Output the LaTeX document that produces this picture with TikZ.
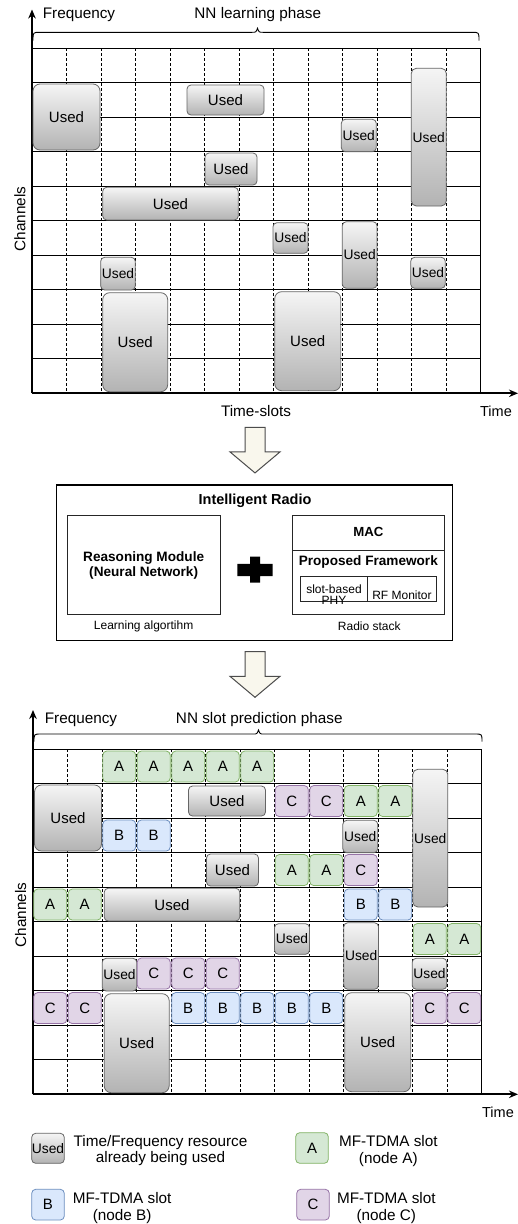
\documentclass[tikz,border=0pt]{standalone}
\usepackage{fontspec}
\setmainfont{Liberation Sans}
\usetikzlibrary{arrows.meta}
\definecolor{gA}{HTML}{D5E8D4}\definecolor{gAd}{HTML}{82B366}
\definecolor{bB}{HTML}{DAE8FC}\definecolor{bBd}{HTML}{6C8EBF}
\definecolor{pC}{HTML}{E1D5E7}\definecolor{pCd}{HTML}{9673A6}
\definecolor{uTop}{HTML}{F5F5F5}\definecolor{uBot}{HTML}{B3B3B3}\definecolor{uDr}{HTML}{666666}
\definecolor{arrF}{HTML}{F9F7ED}
\newcommand{\fsz}[1]{\fontsize{#1}{#1}\selectfont}
\newcommand{\ublk}[7]{%
  \node[usedbox, rounded corners=#7pt, font=\fsz{#6}, minimum width={#4-#2}, minimum height={#5-#3}] (#1) at ({(#2+#4)/2},{(#3+#5)/2}) {Used};}
\newcommand{\chartgrid}[2]{%
  \foreach \c in {1,...,12} \draw[dashline] ({#1+34.5*\c},#2) -- ({#1+34.5*\c},{#2+345});
  \foreach \r in {0,...,9} \draw[gridline] (#1,{#2+34.5*\r}) -- ({#1+448.5},{#2+34.5*\r});
  \draw[gridline] ({#1+448.5},#2) -- ({#1+448.5},{#2+345});}
\newcommand{\blkarrow}[1]{%
  \draw[blockarrow] (245,#1) -- (265,#1) -- (265,{#1+24.6}) -- (280,{#1+24.6}) -- (255,{#1+45.6}) -- (230,{#1+24.6}) -- (245,{#1+24.6}) -- cycle;}
\begin{document}
\begin{tikzpicture}[x=1pt,y=-1pt,
  gridline/.style={black, line width=0.9pt},
  dashline/.style={black, line width=0.7pt, dash pattern=on 3pt off 2pt},
  axis/.style={black, line width=1.8pt, -{Stealth[length=9pt,width=7.5pt]}},
  usedbox/.style={draw=uDr, line width=0.8pt, top color=uTop, bottom color=uBot, inner sep=0pt, text=black},
  slotbase/.style={line width=0.8pt, rounded corners=4pt, minimum width=33pt, minimum height=31pt, inner sep=0pt, font=\fsz{15}},
  slotA/.style={slotbase, fill=gA, draw=gAd},
  slotB/.style={slotbase, fill=bB, draw=bBd},
  slotC/.style={slotbase, fill=pC, draw=pCd},
  lbl/.style={font=\fsz{15.3}, inner sep=0pt},
  small/.style={font=\fsz{12}, inner sep=0pt, align=center},
  bold/.style={font=\bfseries\fsz{13.6}, inner sep=0pt, align=center},
  brc/.style={black, line width=0.9pt},
  boxline/.style={draw=black!85, line width=1pt, inner sep=0pt},
  blockarrow/.style={draw=black!70, fill=arrF, line width=1pt, line join=miter}
]
\useasboundingbox (0,0) rectangle (518,1224);
\fill[white] (0,0) rectangle (518,1224);

% ===== Top chart =====
\chartgrid{32}{48.3}
\coordinate (o1) at (32,393.3);
\coordinate (yt1) at (32,9.5);
\coordinate (xt1) at (518,393.3);
\draw[axis] (o1) -- (yt1);
\draw[axis] (o1) -- (xt1);
\draw[brc] (33,40.5) .. controls (33,32.3) .. (40,32.3) -- (252,32.3) .. controls (256,32.3) .. (257.5,28.3) .. controls (259,32.3) .. (263,32.3) -- (472,32.3) .. controls (479,32.3) .. (479,40.5);
\node[lbl] (freq1) at (79,15) {Frequency};
\node[lbl] (ph1) at (257.8,15) {NN learning phase};
\node[lbl, rotate=90] (ch1) at (20,219) {Channels};
\node[lbl] (ts1) at (256,411) {Time-slots};
\node[font=\fsz{14.5}, inner sep=0pt] (tm1) at (496,411.5) {Time};

\ublk{t1}{33}{84}{100}{150}{15}{7}
\ublk{t2}{187}{85}{264}{115}{15}{4}
\ublk{t3}{205}{153}{257}{185}{15}{4}
\ublk{t4}{102.7}{187.3}{238.3}{220}{15}{4}
\ublk{t5}{100.7}{257.3}{135.3}{290}{13.8}{4}
\ublk{t6}{102.7}{292.7}{167.7}{391.7}{15}{7}
\ublk{t7}{341.3}{119.3}{376.3}{151.7}{13.8}{4}
\ublk{t8}{411.3}{68.3}{446.3}{206}{13.8}{5}
\ublk{t9}{273}{222.7}{308}{253.3}{13.8}{4}
\ublk{t10}{342.3}{221.7}{377}{288.3}{13.8}{4}
\ublk{t11}{410.7}{257.3}{445.3}{288.3}{13.8}{4}
\ublk{t12}{274.7}{291.7}{340.7}{390.7}{15}{7}

% ===== Arrow 1 =====
\blkarrow{427.3}

% ===== Intelligent Radio box =====
\node[boxline, line width=1.5pt, draw=black, minimum width=396pt, minimum height=155.5pt] (ir) at (254.7,562.75) {};
\node[font=\bfseries\fsz{14.5}, inner sep=0pt] (irt) at (255,501) {Intelligent Radio};
\node[boxline, minimum width=152.7pt, minimum height=98.6pt] (rm) at (143.65,565) {};
\node[bold] (rmt) at (143.65,565.5) {Reasoning Module\\[1.2pt](Neural Network)};
\node[small] (la) at (143.65,626) {Learning algortihm};
\node[boxline, minimum width=151.3pt, minimum height=98.3pt] (rs) at (368.35,564.85) {};
\coordinate (macl) at (292.7,550);
\coordinate (macr) at (444,550);
\draw[draw=black!85, line width=1pt] (macl) -- (macr);
\node[font=\bfseries\fsz{13.2}, inner sep=0pt] (mac) at (368.3,532.3) {MAC};
\node[bold] (pf) at (368.3,561.7) {Proposed Framework};
\node[boxline, minimum width=136.7pt, minimum height=25.7pt] (phyb) at (368.35,588.85) {};
\coordinate (dvt) at (367.7,576);
\coordinate (dvb) at (367.7,601.7);
\draw[draw=black!85, line width=1pt] (dvt) -- (dvb);
\node[small, font=\fsz{12}, align=center] (phy) at (334,594.5) {slot-based\\[-0.8pt]PHY};
\node[small] (rf) at (402,595) {RF Monitor};
\node[small] (rst) at (369.3,626) {Radio stack};
\fill[black] (250,556.7) -- (260,556.7) -- (260,563.8) -- (272.7,563.8) -- (272.7,576.2) -- (260,576.2) -- (260,582.5) -- (250,582.5) -- (250,576.2) -- (237.3,576.2) -- (237.3,563.8) -- (250,563.8) -- cycle;

% ===== Arrow 2 =====
\blkarrow{651.7}

% ===== Bottom chart =====
\chartgrid{33}{749.3}
\coordinate (o2) at (33,1094.3);
\coordinate (yt2) at (33,710);
\coordinate (xt2) at (518,1094.3);
\draw[axis] (o2) -- (yt2);
\draw[axis] (o2) -- (xt2);
\draw[brc] (34,741.7) .. controls (34,734) .. (41,734) -- (253,734) .. controls (257,734) .. (258.5,730) .. controls (260,734) .. (264,734) -- (475,734) .. controls (482,734) .. (482,741.7);
\node[lbl] (freq2) at (81,720) {Frequency};
\node[lbl] (ph2) at (259.3,720) {NN slot prediction phase};
\node[lbl, rotate=90] (ch2) at (20.7,915) {Channels};
\node[font=\fsz{14.5}, inner sep=0pt] (tm2) at (498,1112.7) {Time};

\ublk{b1}{34.5}{785}{101.5}{851}{15}{7}
\ublk{b2}{188.5}{786}{265.5}{816}{15}{4}
\ublk{b3}{206.5}{854}{258.5}{886}{15}{4}
\ublk{b4}{104.2}{888.3}{239.8}{921}{15}{4}
\ublk{b5}{102.2}{958.3}{136.8}{991}{13.8}{4}
\ublk{b6}{104.2}{993.7}{169.2}{1092.7}{15}{7}
\ublk{b7}{342.8}{820.3}{377.8}{852.7}{13.8}{4}
\ublk{b8}{412.8}{769.3}{447.8}{907}{13.8}{5}
\ublk{b9}{274.5}{923.7}{309.5}{954.3}{13.8}{4}
\ublk{b10}{343.8}{922.7}{378.5}{989.3}{13.8}{4}
\ublk{b11}{412.2}{958.3}{446.8}{989.3}{13.8}{4}
\ublk{b12}{344.7}{992.7}{410.7}{1091.7}{15}{7}

\foreach \c/\r in {2/0,3/0,4/0,5/0,6/0,9/1,10/1,7/3,8/3,0/4,1/4,11/5,12/5}
  \node[slotA] (A-\c-\r) at ({50.25+34.5*\c},{766.55+34.5*\r}) {A};
\foreach \c/\r in {2/2,3/2,9/4,10/4,4/7,5/7,6/7,7/7,8/7}
  \node[slotB] (B-\c-\r) at ({50.25+34.5*\c},{766.55+34.5*\r}) {B};
\foreach \c/\r in {7/1,8/1,9/3,3/6,4/6,5/6,0/7,1/7,11/7,12/7}
  \node[slotC] (C-\c-\r) at ({50.25+34.5*\c},{766.55+34.5*\r}) {C};

% ===== Legend =====
\ublk{lu}{31.7}{1133.3}{64.3}{1163.3}{13.8}{4}
\node[lbl, align=center] (lut) at (160.5,1150.5) {Time/Frequency resource\\[0.5pt]already being used};
\node[slotA, minimum width=32.6pt, minimum height=30.6pt] (la1) at (312,1148) {A};
\node[lbl, align=center] (lat) at (388.3,1151.2) {MF-TDMA slot\\[1.5pt](node A)};
\node[slotB, minimum width=32.6pt, minimum height=30.7pt] (lb1) at (48,1204.65) {B};
\node[lbl, align=center] (lbt) at (122.2,1207.8) {MF-TDMA slot\\[1.5pt](node B)};
\node[slotC, minimum width=32.6pt, minimum height=30.7pt] (lc1) at (313,1204.65) {C};
\node[lbl, align=center] (lct) at (386.3,1207.8) {MF-TDMA slot\\[1.5pt](node C)};
\end{tikzpicture}
\end{document}
